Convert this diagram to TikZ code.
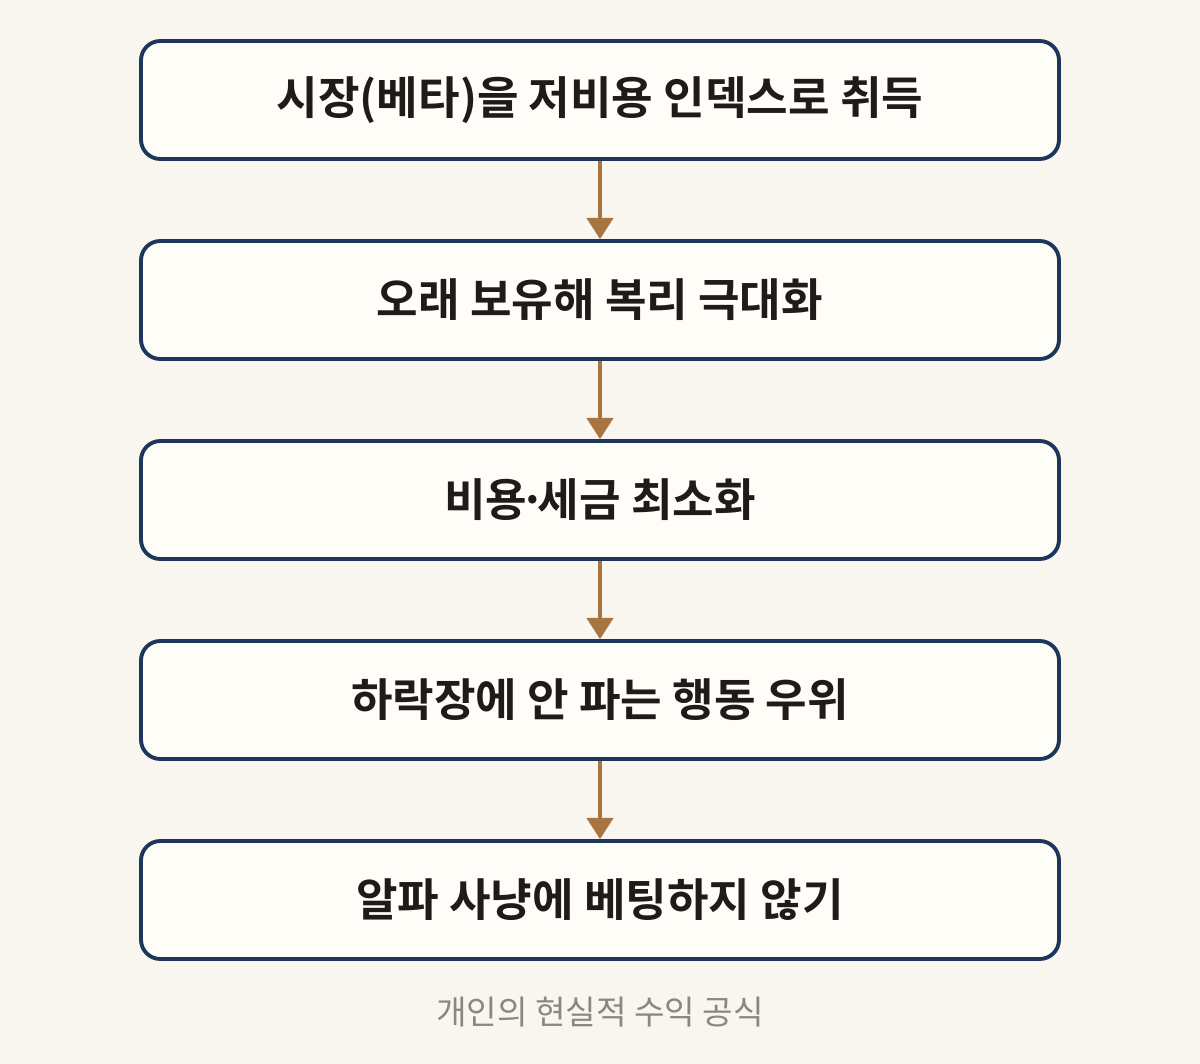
\documentclass[tikz,border=0pt]{standalone}
\usepackage{fontspec}
\setmainfont{Noto Sans CJK KR}
\newfontfamily\krbold{Noto Sans CJK KR Bold}
\usetikzlibrary{arrows.meta}
\definecolor{bgc}{HTML}{F9F6EF}
\definecolor{boxfill}{HTML}{FFFDF8}
\definecolor{navy}{HTML}{1D375C}
\definecolor{arrowc}{HTML}{A87440}
\definecolor{txt}{HTML}{1E1C19}
\definecolor{capc}{HTML}{8C877C}
\begin{document}
\begin{tikzpicture}[x=0.02cm,y=-0.02cm,
  stepbox/.style={draw=navy,fill=boxfill,line width=2.2pt,rounded corners=11pt,
    minimum width=918*0.02cm,minimum height=118*0.02cm,inner sep=0pt,
    font=\krbold\fontsize{25.7}{30}\selectfont,text=txt},
  conn/.style={draw=arrowc,line width=1.8pt,-{Triangle[width=15pt,length=12pt]}}]
\fill[bgc] (0,0) rectangle (1200,1064);
\useasboundingbox (0,0) rectangle (1200,1064);
\node[stepbox] (b1) at (600,100) {시장(베타)을 저비용 인덱스로 취득};
\node[stepbox] (b2) at (600,300) {오래 보유해 복리 극대화};
\node[stepbox] (b3) at (600,500) {비용\kern-0.18em·\kern-0.18em세금 최소화};
\node[stepbox] (b4) at (600,700) {하락장에 안 파는 행동 우위};
\node[stepbox] (b5) at (600,900) {알파 사냥에 베팅하지 않기};
\draw[conn] (b1.south) -- (b2.north);
\draw[conn] (b2.south) -- (b3.north);
\draw[conn] (b3.south) -- (b4.north);
\draw[conn] (b4.south) -- (b5.north);
\node[font=\fontsize{18.9}{22}\selectfont,text=capc] (cap) at (600,1012) {개인의 현실적 수익 공식};
\end{tikzpicture}
\end{document}
